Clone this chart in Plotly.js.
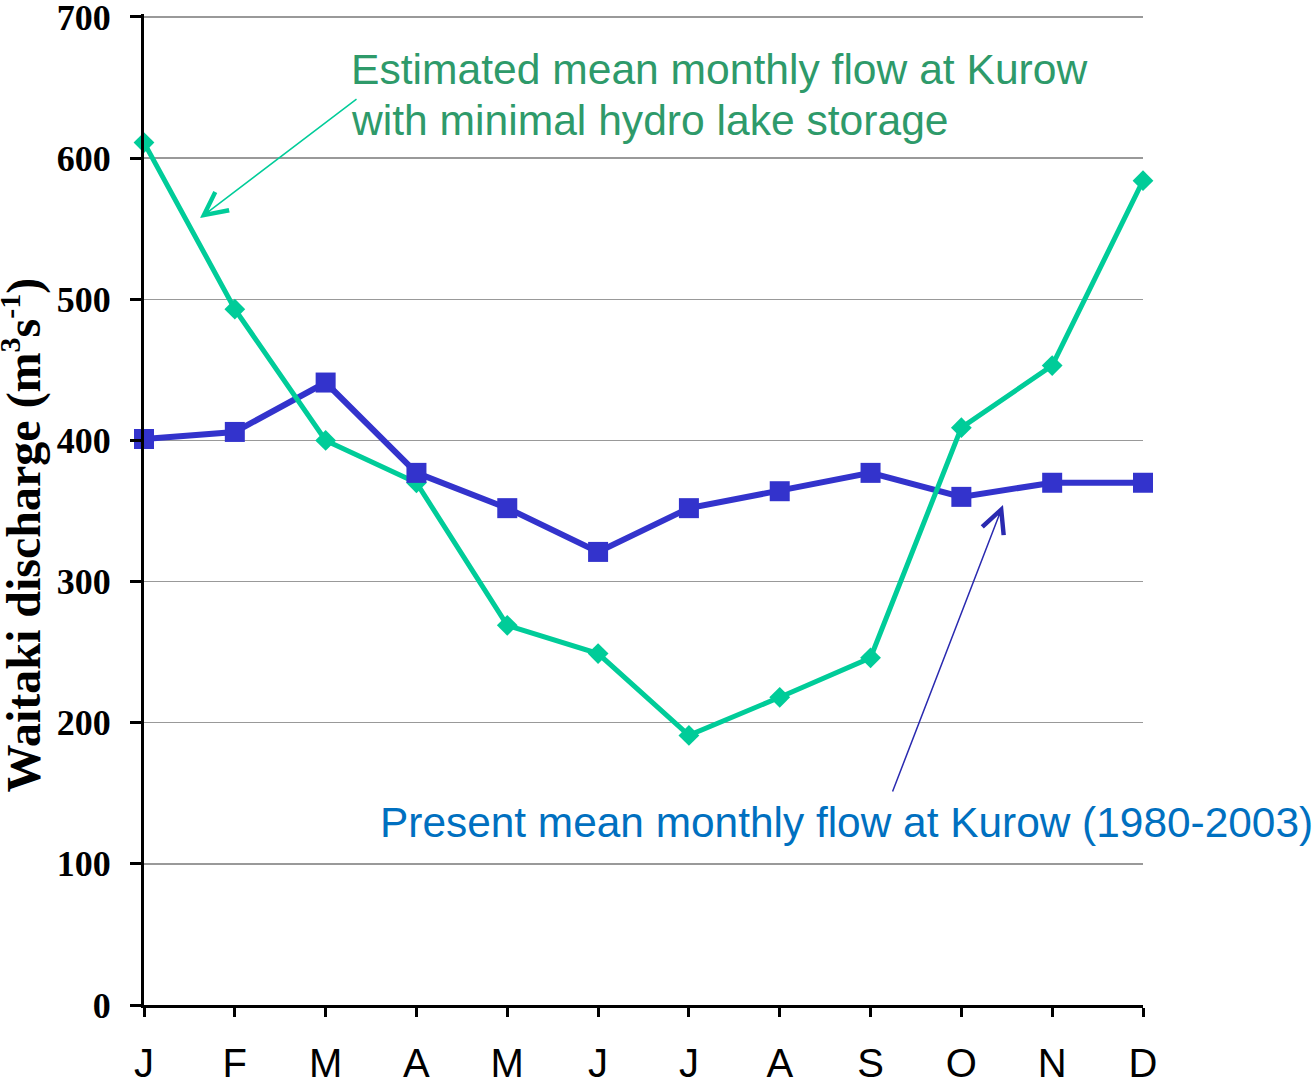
<!DOCTYPE html>
<html>
<head>
<meta charset="utf-8">
<script src="https://cdn.plot.ly/plotly-3.0.1.min.js"></script>
<style>html,body{margin:0;padding:0;background:#fff;}#chart{width:1315px;height:1087px;}</style>
</head>
<body>
<div id="chart"></div>
<script>
const months = ["J","F","M","A","M","J","J","A","S","O","N","D"];
const monthIndex = [0,1,2,3,4,5,6,7,8,9,10,11];
const estimatedFlow = [611, 493, 400, 370, 269, 249, 191, 218, 246, 409, 453, 584];
const presentFlow = [401, 406, 441, 377, 352, 321, 352, 364, 377, 360, 370, 370];
const yTicks = [0,100,200,300,400,500,600,700];

const green = "#00CC99";
const blue = "#3333CC";

const traces = [
  {x: monthIndex, y: presentFlow, mode: "lines", line: {color: blue, width: 6}, cliponaxis: false, hoverinfo: "skip"},
  {x: monthIndex, y: estimatedFlow, mode: "lines", line: {color: green, width: 5}, cliponaxis: false, hoverinfo: "skip"},
  {x: monthIndex, y: estimatedFlow, mode: "markers", marker: {symbol: "diamond", size: 16, color: green}, cliponaxis: false},
  {x: monthIndex, y: presentFlow, mode: "markers", marker: {symbol: "square", size: 20, color: blue}, cliponaxis: false}
];

const layout = {
  width: 1315, height: 1087,
  margin: {l: 144, r: 172, t: 14, b: 82, pad: 0},
  paper_bgcolor: "#fff", plot_bgcolor: "#fff",
  showlegend: false,
  xaxis: {
    range: [0, 11], tickvals: monthIndex, ticktext: months,
    showgrid: false, zeroline: false,
    showline: true, linecolor: "#000", linewidth: 3,
    ticks: "outside", ticklen: 9, tickwidth: 3, tickcolor: "#000",
    tickfont: {family: "Liberation Sans, Arial", size: 40, color: "#000"},
    ticklabelstandoff: 12, ticklabeloverflow: "allow"
  },
  yaxis: {
    range: [0, 702.1], tickvals: yTicks,
    showgrid: true, gridcolor: "#999", gridwidth: 1.5,
    zeroline: false,
    showline: true, linecolor: "#000", linewidth: 3,
    ticks: "outside", ticklen: 11, tickwidth: 3, tickcolor: "#000",
    tickfont: {family: "Liberation Serif, Times New Roman", size: 36, color: "#000", weight: "bold"},
    ticklabelstandoff: 12, ticklabeloverflow: "allow"
  },
  annotations: [
    {xref: "paper", yref: "paper", x: -0.122, y: 0.474, xanchor: "center", yanchor: "middle",
     textangle: -90, showarrow: false,
     text: "<b>Waitaki discharge (m<sup><span style=\"font-size:30px\">3</span></sup>s<sup><span style=\"font-size:30px\">-1</span></sup>)</b>",
     font: {family: "Liberation Serif, Times New Roman", size: 48, color: "#000"}},
    {xref: "paper", yref: "paper", x: (349-144)/999, y: (1005-69)/991, xanchor: "left", yanchor: "middle",
     showarrow: false,
     text: "Estimated mean monthly flow at Kurow",
     font: {family: "Liberation Sans, Arial", size: 42.6, color: "#2E9A6A"}},
    {xref: "paper", yref: "paper", x: (349-144)/999, y: (1005-120)/991, xanchor: "left", yanchor: "middle",
     showarrow: false,
     text: "with minimal hydro lake storage",
     font: {family: "Liberation Sans, Arial", size: 42.6, color: "#2E9A6A"}},
    {xref: "paper", yref: "paper", x: (378-144)/999, y: (1005-822)/991, xanchor: "left", yanchor: "middle",
     showarrow: false,
     text: "Present mean monthly flow at Kurow (1980-2003)",
     font: {family: "Liberation Sans, Arial", size: 42.4, color: "#0070C0"}},
    {xref: "paper", yref: "paper", axref: "pixel", ayref: "pixel",
     x: (200-144)/999, y: (1005-218)/991, ax: 158, ay: -120,
     showarrow: true, arrowhead: 5, arrowsize: 3, arrowwidth: 1.5, arrowcolor: green, text: ""},
    {xref: "paper", yref: "paper", axref: "pixel", ayref: "pixel",
     x: (1003-144)/999, y: (1005-505)/991, ax: -111, ay: 288,
     showarrow: true, arrowhead: 5, arrowsize: 3, arrowwidth: 1.5, arrowcolor: "#2A2AB0", text: ""}
  ]
};

Plotly.newPlot("chart", traces, layout, {displayModeBar: false, staticPlot: true});
</script>
</body>
</html>
